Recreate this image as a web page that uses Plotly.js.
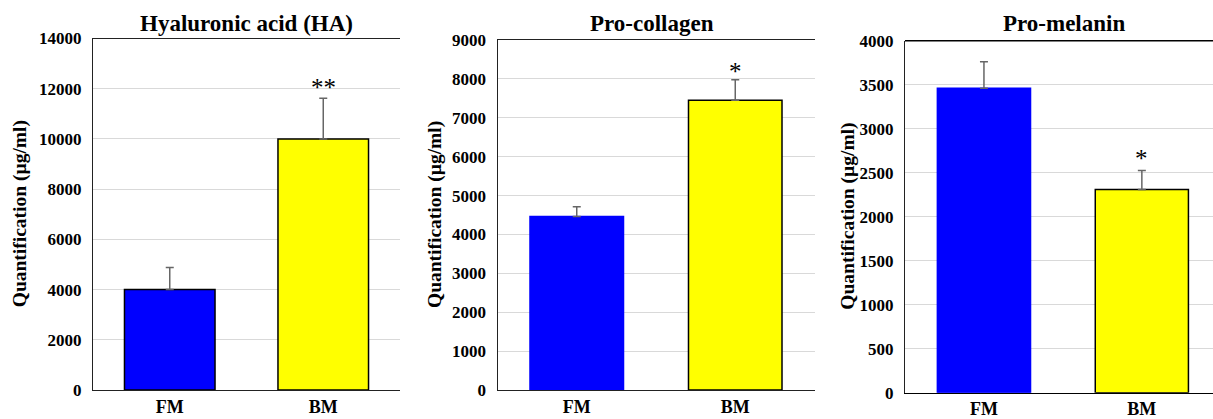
<!DOCTYPE html>
<html>
<head>
<meta charset="utf-8">
<script src="https://cdn.plot.ly/plotly-3.0.1.min.js"></script>
<style>html,body{margin:0;padding:0;background:#fff;}#chart{width:1213px;height:419px;}</style>
</head>
<body>
<div id="chart"></div>
<script>
const categories = ["FM", "BM"];
const panelTitles = ["Hyaluronic acid (HA)", "Pro-collagen", "Pro-melanin"];
const haValues = [4000, 10000];
const haErrors = [880, 1620];
const collagenValues = [4460, 7450];
const collagenErrors = [250, 530];
const melaninValues = [3460, 2310];
const melaninErrors = [300, 215];
const significance = ["**", "*", "*"];
const significanceY = [12050, 8180, 2660];
const yMax = [14000, 9000, 4000];
const yStep = [2000, 1000, 500];
const yTitle = "Quantification (µg/ml)";
const barColors = ["#0000ff", "#ffff00"];

const serif = "Liberation Serif, Times New Roman, serif";
const values = [haValues, collagenValues, melaninValues];
const errors = [haErrors, collagenErrors, melaninErrors];
const fmOutline = [true, false, false];

const xDomains = [[93/1213, 400/1213], [497.5/1213, 814.5/1213], [905/1213, 1]];
const yDomains = [[29/419, 380.5/419], [29/419, 379/419], [26.3/419, 378.3/419]];
const xRanges = [[-0.5, 1.5], [-0.5, 1.5], [-0.5, -0.5 + 308/157.9]];
const titleX = [246, 652, 1064];
const yTitleX = [20, 435, 848];

const traces = [];
const annotations = [];
const layout = {
  width: 1213, height: 419,
  margin: {l: 0, r: 0, t: 0, b: 0},
  paper_bgcolor: "#ffffff", plot_bgcolor: "#ffffff",
  showlegend: false,
  bargap: 0.41,
  font: {family: serif, color: "#000"}
};

for (let i = 0; i < 3; i++) {
  const s = i === 0 ? "" : String(i + 1);
  traces.push({
    type: "bar",
    x: categories,
    y: values[i],
    xaxis: "x" + s, yaxis: "y" + s,
    marker: {
      color: barColors,
      line: {color: fmOutline[i] ? ["#000", "#000"] : ["#0000ff", "#000"], width: 1.5}
    },
    error_y: {type: "data", symmetric: false, array: errors[i], arrayminus: [0, 0],
              color: "#666666", thickness: 1.5, width: 4},
    hoverinfo: "skip"
  });
  layout["xaxis" + s] = {
    domain: xDomains[i], anchor: "y" + s,
    range: xRanges[i], type: "category",
    showline: true, linecolor: i === 2 ? "#000" : "#222", linewidth: 1, mirror: i === 2 ? false : true,
    ticks: "", showgrid: false, zeroline: false,
    tickfont: {family: serif, size: 18, weight: "bold", color: "#000"},
    fixedrange: true
  };
  layout["yaxis" + s] = {
    domain: yDomains[i], anchor: "x" + s,
    range: [0, yMax[i]], dtick: yStep[i], tick0: 0, tickformat: "d",
    showline: true, linecolor: "#222", linewidth: 1, mirror: false,
    showgrid: true, gridcolor: "#d9d9d9", gridwidth: 1, zeroline: false,
    ticks: "", ticklen: 0, ticklabelstandoff: 7,
    tickfont: {family: serif, size: 17, weight: "bold", color: "#000"},
    fixedrange: true
  };
  annotations.push({
    text: panelTitles[i], xref: "paper", yref: "paper",
    x: titleX[i] / 1213, y: 1 - 23/419, xanchor: "center", yanchor: "middle", showarrow: false,
    font: {family: serif, size: 23, weight: "bold", color: "#000"}
  });
  annotations.push({
    text: yTitle, xref: "paper", yref: "y" + s + " domain",
    x: yTitleX[i] / 1213, y: 0.5, textangle: -90,
    xanchor: "center", yanchor: "middle", showarrow: false,
    font: {family: serif, size: 19.5, weight: "bold", color: "#000"}
  });
  annotations.push({
    text: significance[i], xref: "x" + s, yref: "y" + s,
    x: "BM", y: significanceY[i], xanchor: "center", yanchor: "middle", showarrow: false,
    font: {family: serif, size: 25, color: "#000"}
  });
}
layout.shapes = [{
  type: "line", xref: "x3 domain", yref: "y3 domain", x0: 0, x1: 1, y0: 1, y1: 1,
  line: {color: "#000", width: 1.5}
}];
layout.annotations = annotations;

Plotly.newPlot("chart", traces, layout, {staticPlot: true, displayModeBar: false});
</script>
</body>
</html>
